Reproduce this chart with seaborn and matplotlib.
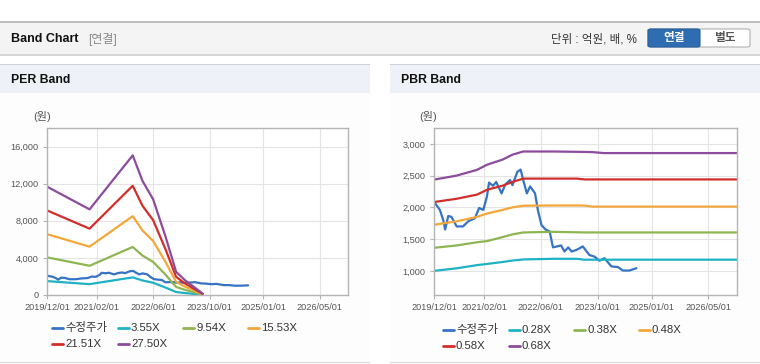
import matplotlib
matplotlib.use("Agg")
import matplotlib.pyplot as plt
import seaborn as sns
import pandas as pd
import matplotlib.dates as mdates
from matplotlib.patches import Rectangle, FancyBboxPatch
from matplotlib.lines import Line2D
from matplotlib.ticker import FuncFormatter

# ---------------- data ----------------
price_dates = ["2019-12-01", "2020-01-20", "2020-02-18", "2020-03-05", "2020-04-01", "2020-04-28",
               "2020-06-12", "2020-08-05", "2020-09-18", "2020-11-15", "2020-12-20", "2021-01-25",
               "2021-02-25", "2021-03-15", "2021-04-18", "2021-05-15", "2021-06-30", "2021-08-01",
               "2021-09-10", "2021-10-01", "2021-11-12", "2021-12-10", "2022-01-01", "2022-02-01",
               "2022-03-01", "2022-04-12", "2022-05-06", "2022-06-06", "2022-07-12", "2022-08-15",
               "2022-09-12", "2022-11-20", "2022-12-20", "2023-01-20", "2023-02-18", "2023-04-01",
               "2023-05-25", "2023-07-20", "2023-09-01", "2023-10-15", "2023-11-25", "2024-01-25",
               "2024-03-20", "2024-05-01", "2024-06-25", "2024-08-25"]
price_vals = [2090, 1960, 1800, 1650, 1865, 1850,
              1700, 1700, 1780, 1830, 1990, 1960,
              2170, 2390, 2340, 2400, 2220, 2360,
              2430, 2350, 2560, 2595, 2430, 2220,
              2330, 2220, 1960, 1720, 1650, 1620,
              1370, 1400, 1305, 1370, 1305, 1330,
              1385, 1250, 1225, 1160, 1200, 1070,
              1060, 1005, 1005, 1042]

per_dates = ["2019-12-01", "2020-12-01", "2021-12-07", "2022-03-01", "2022-06-01",
             "2022-09-15", "2022-12-15", "2023-03-01", "2023-08-01"]
per_3_55 = [1500, 1170, 1900, 1570, 1320, 800, 320, 210, 20]
per_9_54 = [4060, 3150, 5180, 4250, 3560, 2190, 870, 555, 50]
per_15_53 = [6560, 5210, 8500, 6950, 5820, 3560, 1410, 900, 80]
per_21_51 = [9120, 7150, 11770, 9620, 8060, 4930, 1960, 1250, 110]
per_27_50 = [11680, 9230, 15050, 12300, 10300, 6300, 2500, 1600, 150]

pbr_dates = ["2019-12-01", "2020-06-10", "2020-12-01", "2021-03-01", "2021-07-10",
             "2021-10-01", "2022-01-01", "2022-09-10", "2023-04-01", "2023-06-10",
             "2023-08-15", "2023-11-20", "2027-01-01"]
pbr_0_28 = [1000, 1040, 1090, 1110, 1140, 1163, 1180, 1190, 1190, 1176, 1176, 1176, 1176]
pbr_0_38 = [1363, 1400, 1450, 1470, 1532, 1575, 1605, 1615, 1608, 1605, 1605, 1605, 1605]
pbr_0_48 = [1726, 1780, 1850, 1905, 1960, 2000, 2026, 2030, 2030, 2028, 2012, 2012, 2012]
pbr_0_58 = [2084, 2135, 2200, 2279, 2342, 2400, 2453, 2453, 2453, 2440, 2440, 2440, 2440]
pbr_0_68 = [2437, 2500, 2590, 2674, 2753, 2830, 2880, 2880, 2875, 2873, 2870, 2855, 2855]

per_labels = ["수정주가", "3.55X", "9.54X", "15.53X", "21.51X", "27.50X"]
pbr_labels = ["수정주가", "0.28X", "0.38X", "0.48X", "0.58X", "0.68X"]
colors = ["#3673c4", "#1fb2c5", "#8db653", "#f3a73a", "#d12e2b", "#8c4b9c"]

xtick_labels = ["2019/12/01", "2021/02/01", "2022/06/01", "2023/10/01", "2025/01/01", "2026/05/01"]

# ---------------- frames ----------------
def build(labels, band_dates, bands):
    frames = [pd.DataFrame({"date": pd.to_datetime(price_dates), "value": price_vals, "series": labels[0]})]
    for lab, vals in zip(labels[1:], bands):
        frames.append(pd.DataFrame({"date": pd.to_datetime(band_dates), "value": vals, "series": lab}))
    return pd.concat(frames, ignore_index=True)

df_per = build(per_labels, per_dates, [per_3_55, per_9_54, per_15_53, per_21_51, per_27_50])
df_pbr = build(pbr_labels, pbr_dates, [pbr_0_28, pbr_0_38, pbr_0_48, pbr_0_58, pbr_0_68])

# ---------------- figure ----------------
sns.set_theme(style="white")
plt.rcParams["font.family"] = ["Liberation Sans", "Noto Sans CJK KR", "DejaVu Sans"]

W, H = 760, 364
fig = plt.figure(figsize=(W / 100, H / 100), dpi=100)
fig.patch.set_facecolor("white")

def fx(x):
    return x / W

def fy(y):
    return 1 - y / H

def rect(x0, y0, x1, y1, fc, ec="none", lw=0, z=-10):
    fig.patches.append(Rectangle((fx(x0), fy(y1)), fx(x1) - fx(x0), fy(y0) - fy(y1),
                                 transform=fig.transFigure, facecolor=fc, edgecolor=ec,
                                 linewidth=lw, zorder=z))

# header bar
rect(0, 22, 760, 54, "#f4f4f4")
rect(0, 21, 760, 22.5, "#bdbdbd")
rect(0, 53.5, 760, 55.5, "#d6d6d6")
fig.text(fx(11), fy(39), "Band Chart", fontsize=9, fontweight="bold", color="#111", va="center")
fig.text(fx(88), fy(39), "[연결]", fontsize=8.6, color="#888", va="center")
fig.text(fx(637), fy(39), "단위 : 억원, 배, %", fontsize=8.3, color="#333", va="center", ha="right")
fig.patches.append(FancyBboxPatch((fx(648), fy(47)), fx(750) - fx(648), fy(29) - fy(47),
                                  boxstyle="round,pad=0,rounding_size=0.004",
                                  transform=fig.transFigure, facecolor="white",
                                  edgecolor="#b0b0b0", linewidth=0.8, zorder=-5))
fig.patches.append(FancyBboxPatch((fx(648), fy(47)), fx(700) - fx(648), fy(29) - fy(47),
                                  boxstyle="round,pad=0,rounding_size=0.004",
                                  transform=fig.transFigure, facecolor="#2f6db3",
                                  edgecolor="#2a5f9c", linewidth=0.8, zorder=-4))
fig.text(fx(674), fy(38.5), "연결", fontsize=8.4, fontweight="bold", color="white",
         ha="center", va="center", zorder=3)
fig.text(fx(725), fy(38.5), "별도", fontsize=8.4, fontweight="bold", color="#555",
         ha="center", va="center", zorder=3)

# panels
for (x0, x1, title) in [(0, 370, "PER Band"), (390, 760, "PBR Band")]:
    rect(x0, 64, x1, 93, "#eef2f8")
    rect(x0, 63.5, x1, 64.5, "#d0d3d8")
    rect(x0, 93, x1, 362, "#fdfdfd")
    rect(x0, 361.5, x1, 363, "#d8d8d8")
    fig.text(fx(x0 + 11), fy(80), title, fontsize=8.8, fontweight="bold", color="#111", va="center")

tick_dates = pd.to_datetime([s.replace("/", "-") for s in xtick_labels])

def style_axis(ax, ylim, yticks):
    ax.set_facecolor("white")
    ax.set_xlim(pd.Timestamp("2019-12-01"), pd.Timestamp("2027-01-01"))
    ax.set_xticks(tick_dates)
    ax.set_xticklabels(xtick_labels)
    ax.set_ylim(*ylim)
    ax.set_yticks(yticks)
    ax.yaxis.set_major_formatter(FuncFormatter(lambda v, p: f"{int(v):,}"))
    ax.grid(True, color="#e4e4e4", linewidth=0.8)
    ax.set_axisbelow(True)
    for s in ax.spines.values():
        s.set_color("#b4b4b4")
        s.set_linewidth(1.0)
    ax.tick_params(axis="both", length=3, width=0.8, color="#b4b4b4", labelcolor="#555555",
                   labelsize=6.6, pad=3, direction="out", bottom=True, left=True)
    ax.set_xlabel("")
    ax.set_ylabel("")

def legend(x0, y0, labels):
    cols = [0, 66, 131, 196]
    for i, (lab, c) in enumerate(zip(labels, colors)):
        r, k = divmod(i, 4)
        x = x0 + cols[k]
        y = y0 + r * 16
        fig.add_artist(Line2D([fx(x), fx(x + 11)], [fy(y), fy(y)], color=c, lw=2,
                              transform=fig.transFigure))
        fig.text(fx(x + 13), fy(y), lab, fontsize=8.2, color="#333", va="center")

# PER
ax1 = fig.add_axes([fx(47), fy(295), fx(348) - fx(47), fy(128) - fy(295)])
sns.lineplot(data=df_per, x="date", y="value", hue="series", hue_order=per_labels,
             palette=colors, estimator=None, sort=False, legend=False, linewidth=1.6, ax=ax1)
style_axis(ax1, (0, 18000), [0, 4000, 8000, 12000, 16000])
fig.text(fx(33), fy(117), "(원)", fontsize=8, color="#555", va="center")
legend(52, 328, per_labels)

# PBR
ax2 = fig.add_axes([fx(434), fy(295), fx(737) - fx(434), fy(128) - fy(295)])
sns.lineplot(data=df_pbr, x="date", y="value", hue="series", hue_order=pbr_labels,
             palette=colors, estimator=None, sort=False, legend=False, linewidth=1.6, ax=ax2)
style_axis(ax2, (620, 3250), [1000, 1500, 2000, 2500, 3000])
fig.text(fx(419), fy(117), "(원)", fontsize=8, color="#555", va="center")
legend(443, 330, pbr_labels)

fig.savefig("out.png", dpi=100)
